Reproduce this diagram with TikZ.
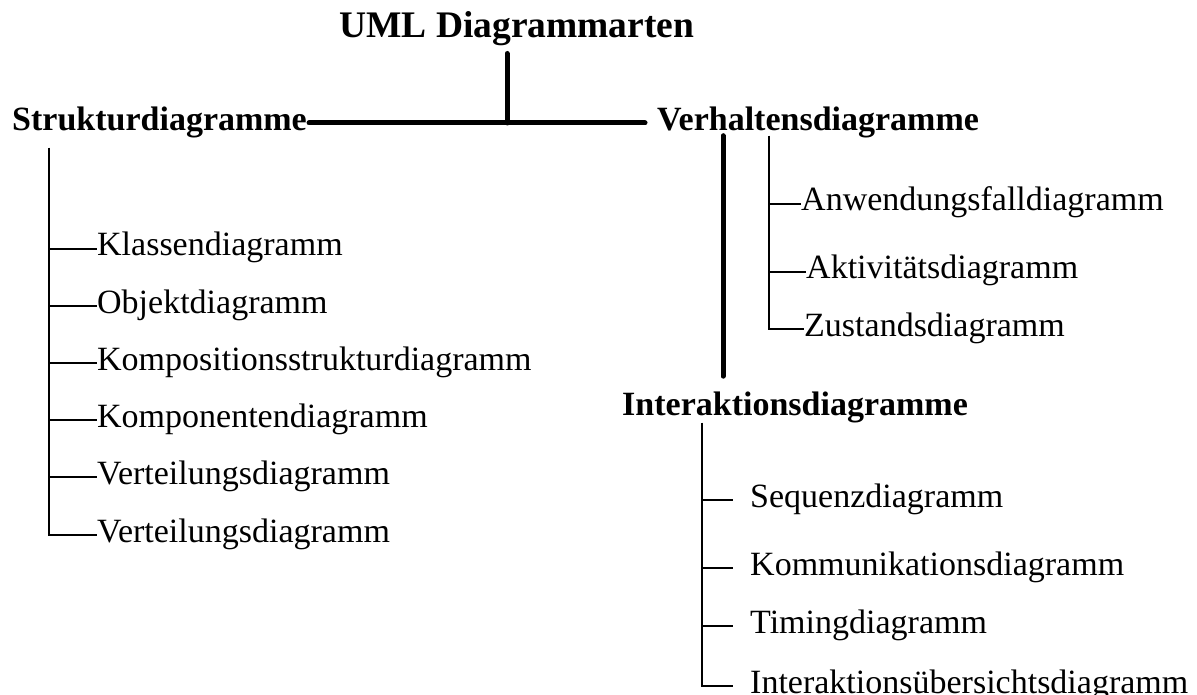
\documentclass[tikz,border=0pt]{standalone}
\usepackage{fontspec}
\setmainfont{Liberation Serif}
\begin{document}
\begin{tikzpicture}[x=1pt,y=-1pt,
  title/.style={font=\fontsize{37.5}{40}\selectfont\bfseries, inner sep=0pt, anchor=base west},
  head/.style={font=\fontsize{34}{40}\selectfont\bfseries, inner sep=0pt, anchor=base west},
  leaf/.style={font=\fontsize{34}{40}\selectfont, inner sep=0pt, anchor=west,
    text height=20pt, text depth=6pt},
  trunk/.style={line width=5pt, line cap=round},
  twig/.style={line width=1.3pt}]
\useasboundingbox (0,0) rectangle (1197,695);

% root and the three groups
\node[title] (t) at (339,38) {UML Diagrammarten};
\node[head] (s) at (12,131) {Strukturdiagramme};
\node[head] (v) at (657,131) {Verhaltensdiagramme};
\node[head] (i) at (622,415) {Interaktionsdiagramme};

% trunk lines
\coordinate (j) at (507,123);
\coordinate (vx) at (723,0);
\draw[trunk, shorten <=7pt] (t.south -| j) -- (j);
\draw[trunk, shorten <=2pt, shorten >=12pt] (s.east |- j) -- (v.west |- j);
\draw[trunk, shorten <=-3pt, shorten >=15pt] (v.south -| vx) -- (i.north -| vx);

% structure diagrams
\coordinate (sb) at (49,0);
\node[leaf] (s1) at (97,249) {Klassendiagramm};
\node[leaf] (s2) at (97,306) {Objektdiagramm};
\node[leaf] (s3) at (97,363) {Kompositionsstrukturdiagramm};
\node[leaf] (s4) at (97,420) {Komponentendiagramm};
\node[leaf] (s5) at (97,477) {Verteilungsdiagramm};
\node[leaf] (s6) at (97,535) {Verteilungsdiagramm};
\draw[twig, shorten <=9pt] (s.south -| sb) |- (s6.west);
\foreach \c in {s1,s2,s3,s4,s5}
  \draw[twig] (sb |- \c.west) -- (\c.west);

% behaviour diagrams
\coordinate (vb) at (769,0);
\node[leaf] (v1) at (801,204) {Anwendungsfalldiagramm};
\node[leaf] (v2) at (806,272) {Aktivitätsdiagramm};
\node[leaf] (v3) at (804,329) {Zustandsdiagramm};
\draw[twig, shorten <=-3pt] (v.south -| vb) |- (v3.west);
\foreach \c in {v1,v2}
  \draw[twig] (vb |- \c.west) -- (\c.west);

% interaction diagrams
\coordinate (ib) at (702,0);
\node[leaf] (x1) at (750,500) {Sequenzdiagramm};
\node[leaf] (x2) at (750,568) {Kommunikationsdiagramm};
\node[leaf] (x3) at (750,626) {Timingdiagramm};
\node[leaf] (x4) at (750,686) {Interaktionsübersichtsdiagramm};
\draw[twig, shorten >=17pt] (i.south -| ib) |- (x4.west);
\foreach \c in {x1,x2,x3}
  \draw[twig, shorten >=17pt] (ib |- \c.west) -- (\c.west);
\end{tikzpicture}
\end{document}
